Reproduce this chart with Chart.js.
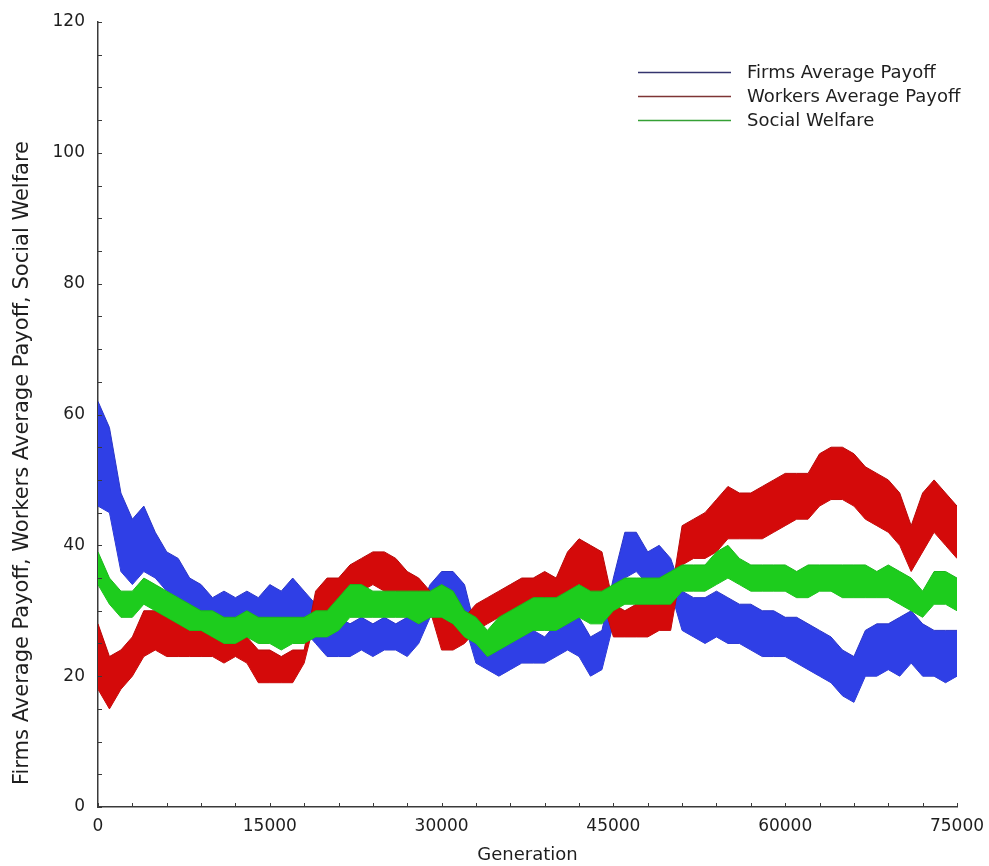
<!DOCTYPE html>
<html>
<head>
<meta charset="utf-8">
<script src="https://cdn.jsdelivr.net/npm/chart.js@4.4.1/dist/chart.umd.min.js"></script>
<style>
html,body{margin:0;padding:0;background:#fff;}
#wrap{width:989px;height:866px;position:relative;}
</style>
</head>
<body>
<div id="wrap"><canvas id="c" width="989" height="866"></canvas></div>
<script>
// Sampling grid (generation) for the envelope readings
const generations = Array.from({length: 76}, (_, i) => i * 1000);

// Firms Average Payoff: upper / lower edge of the noisy band
const firmsHi = [62,58,48,44,46,42,39,38,35,34,32,33,32,33,32,34,33,35,33,31,
                 28,29,28,29,28,29,28,29,30,34,36,36,34,27,26,25,26,27,27,26,
                 28,30,29,26,27,35,42,42,39,40,38,33,32,32,33,32,31,31,30,30,
                 29,29,28,27,26,24,23,27,28,28,29,30,28,27,27,27];
const firmsLo = [46,45,36,34,36,35,33,32,30,28,27,27,26,27,27,27,27,27,27,25,
                 23,23,23,24,23,24,24,23,25,29,30,30,28,22,21,20,21,22,22,22,
                 23,24,23,20,21,28,35,36,34,35,33,27,26,25,26,25,25,24,23,23,
                 23,22,21,20,19,17,16,20,20,21,20,22,20,20,19,20];

// Workers Average Payoff
const workersHi = [28,23,24,26,30,30,30,29,27,27,27,26,27,26,24,24,23,24,24,33,
                   35,35,37,38,39,39,38,36,35,33,29,28,29,31,32,33,34,35,35,36,
                   35,39,41,40,39,31,30,31,31,31,32,43,44,45,47,49,48,48,49,50,
                   51,51,51,54,55,55,54,52,51,50,48,43,48,50,48,46];
const workersLo = [18,15,18,20,23,24,23,23,23,23,23,22,23,22,19,19,19,19,22,29,
                   30,31,32,33,34,33,33,32,31,30,24,24,25,27,28,29,29,30,31,31,
                   31,33,34,33,32,26,26,26,26,27,27,37,38,38,39,41,41,41,41,42,
                   43,44,44,46,47,47,46,44,43,42,40,36,39,42,40,38];

// Social Welfare
const welfareHi = [39,35,33,33,35,34,33,32,31,30,30,29,29,30,29,29,29,29,29,30,
                   30,32,34,34,33,33,33,33,33,33,34,33,30,29,27,29,30,31,32,32,
                   32,33,34,33,33,34,35,35,35,35,36,37,37,37,39,40,38,37,37,37,
                   37,36,37,37,37,37,37,37,36,37,36,35,33,36,36,35];
const welfareLo = [34,31,29,29,31,30,29,28,27,27,26,25,25,26,25,25,24,25,25,26,
                   26,27,29,29,29,29,29,29,28,29,29,28,26,25,23,24,25,26,27,27,
                   27,28,29,28,28,30,31,31,31,31,31,33,33,33,34,35,34,33,33,33,
                   33,32,32,33,33,32,32,32,32,32,31,30,29,31,31,30];

// Axis ticks
const xTicks = [0, 15000, 30000, 45000, 60000, 75000];
const yTicks = [0, 20, 40, 60, 80, 100, 120];
const xMinorStep = 3000;
const yMinorStep = 5;

const seriesNames = ['Firms Average Payoff', 'Workers Average Payoff', 'Social Welfare'];
const xTitle = 'Generation';
const yTitle = 'Firms Average Payoff, Workers Average Payoff, Social Welfare';

const pts = arr => arr.map((v, i) => ({x: generations[i], y: v}));

const fills = {blue: '#2f3fe6', red: '#d40a0a', green: '#1dcc1d'};
const edges = {blue: '#2a35c8', red: '#b80808', green: '#19b819'};
const legendLines = ['#34346e', '#7e3434', '#35a035'];

function band(hi, lo, key) {
  return [
    {data: pts(hi), borderColor: edges[key], backgroundColor: fills[key], borderWidth: 1,
     pointRadius: 0, fill: '+1', tension: 0},
    {data: pts(lo), borderColor: edges[key], backgroundColor: fills[key], borderWidth: 1,
     pointRadius: 0, fill: false, tension: 0}
  ];
}

const datasets = [
  ...band(welfareHi, welfareLo, 'green'),
  ...band(workersHi, workersLo, 'red'),
  ...band(firmsHi, firmsLo, 'blue')
];

const decor = {
  id: 'decor',
  afterDraw(chart) {
    const {ctx, chartArea: a, scales: {x, y}} = chart;
    ctx.save();
    // inward tick marks
    ctx.strokeStyle = '#3a3a3a';
    ctx.lineWidth = 1;
    ctx.beginPath();
    for (let v = 0; v <= 120; v += yMinorStep) {
      const py = Math.round(y.getPixelForValue(v)) + 0.5;
      ctx.moveTo(a.left, py); ctx.lineTo(a.left + 4, py);
    }
    for (let v = 0; v <= 75000; v += xMinorStep) {
      const px = Math.round(x.getPixelForValue(v)) + 0.5;
      ctx.moveTo(px, a.bottom); ctx.lineTo(px, a.bottom - 4);
    }
    ctx.stroke();

    // axis titles
    ctx.fillStyle = '#1e1e1e';
    ctx.textAlign = 'center';
    ctx.textBaseline = 'middle';
    ctx.font = '18px "DejaVu Sans"';
    ctx.fillText(xTitle, (a.left + a.right) / 2, 855);
    ctx.save();
    ctx.translate(23, 463);
    ctx.rotate(-Math.PI / 2);
    ctx.font = '21px "DejaVu Sans"';
    ctx.fillText(yTitle, 0, 0);
    ctx.restore();

    // legend
    ctx.textAlign = 'left';
    ctx.font = '18px "DejaVu Sans"';
    const ys = [72, 96, 120];
    seriesNames.forEach((name, i) => {
      ctx.strokeStyle = legendLines[i];
      ctx.lineWidth = 1.5;
      ctx.beginPath();
      ctx.moveTo(638, ys[i] + 0.5); ctx.lineTo(731, ys[i] + 0.5);
      ctx.stroke();
      ctx.fillStyle = '#1e1e1e';
      ctx.fillText(name, 747, ys[i] + 1);
    });
    ctx.restore();
  }
};

new Chart(document.getElementById('c'), {
  type: 'line',
  data: {datasets},
  options: {
    responsive: false,
    animation: false,
    parsing: false,
    normalized: true,
    layout: {padding: {left: 0, right: 32, top: 22, bottom: 0}},
    plugins: {legend: {display: false}, tooltip: {enabled: false}},
    scales: {
      x: {
        type: 'linear', min: 0, max: 75000,
        afterBuildTicks: s => { s.ticks = xTicks.map(v => ({value: v})); },
        afterFit: s => { s.height = 59; s.paddingLeft = 0; s.paddingRight = 0; },
        grid: {display: false, drawTicks: false},
        border: {display: true, color: '#3a3a3a', width: 1.5},
        ticks: {padding: 9, color: '#1e1e1e', font: {family: 'DejaVu Sans', size: 17},
                maxRotation: 0, autoSkip: false, callback: v => String(v)}
      },
      y: {
        type: 'linear', min: 0, max: 120,
        afterBuildTicks: s => { s.ticks = yTicks.map(v => ({value: v})); },
        afterFit: s => { s.width = 98; s.paddingTop = 0; s.paddingBottom = 0; },
        grid: {display: false, drawTicks: false},
        border: {display: true, color: '#3a3a3a', width: 1.5},
        ticks: {padding: 13, color: '#1e1e1e', font: {family: 'DejaVu Sans', size: 17},
                autoSkip: false, callback: v => String(v)}
      }
    }
  },
  plugins: [decor]
});
</script>
</body>
</html>
